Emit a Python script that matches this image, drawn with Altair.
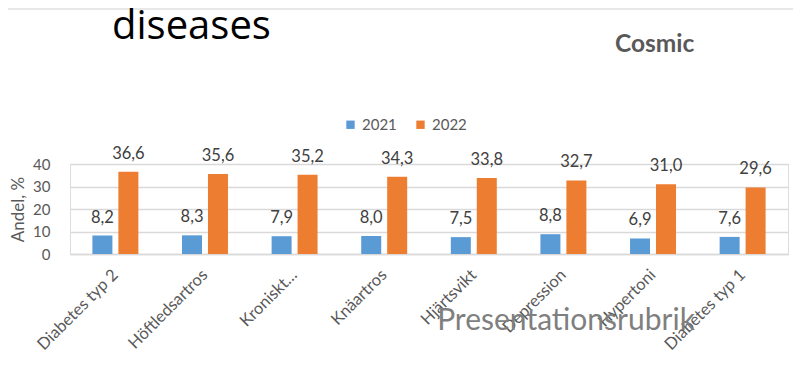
import altair as alt
import pandas as pd

categories = ["Diabetes typ 2", "Höftledsartros", "Kroniskt…", "Knäartros",
              "Hjärtsvikt", "Depression", "Hypertoni", "Diabetes typ 1"]
years = ["2021", "2022"]
values_2021 = [8.2, 8.3, 7.9, 8.0, 7.5, 8.8, 6.9, 7.6]
values_2022 = [36.6, 35.6, 35.2, 34.3, 33.8, 32.7, 31.0, 29.6]
y_ticks = [0, 10, 20, 30, 40]
colors = ["#5b9bd5", "#ed7d31"]
slide_title = ["diseases"]
brand = ["Cosmic"]
footer = ["Presentationsrubrik"]

rows = []
for c, a, b in zip(categories, values_2021, values_2022):
    for yr, v in zip(years, (a, b)):
        rows.append({"kategori": c, "år": yr, "andel": v,
                     "etikett": f"{v:.1f}".replace(".", ",")})
df = pd.DataFrame(rows)

FONT = "Lato"
GRAY = "#595959"

x_axis = alt.Axis(labelAngle=-45, labelAlign="right", labelBaseline="middle",
                  labelFontSize=16.5, labelColor=GRAY, labelFont=FONT,
                  domainColor="#d9d9d9", domainWidth=1.5, ticks=False,
                  labelPadding=18, grid=False, labelOverlap=False)
y_axis = alt.Axis(values=y_ticks, tickCount=5, title="Andel, %", titleFontSize=17,
                  titleColor=GRAY, titleFontWeight="normal", titleFont=FONT,
                  labelFontSize=15, labelColor=GRAY, labelFont=FONT,
                  labelPadding=20, domain=False, ticks=False, labelOverlap=False,
                  gridColor="#d9d9d9", gridWidth=1.5, titlePadding=5)
x_scale = alt.Scale(paddingInner=0.487, paddingOuter=0.25)
y_scale = alt.Scale(domain=[0, 40], nice=False)
off_scale = alt.Scale(paddingInner=0.23, paddingOuter=0)

base = alt.Chart(df)
bars = base.mark_bar().encode(
    x=alt.X("kategori:N", sort=categories, title=None, scale=x_scale, axis=x_axis),
    xOffset=alt.XOffset("år:N", sort=years, scale=off_scale),
    y=alt.Y("andel:Q", scale=y_scale, axis=y_axis),
    color=alt.Color("år:N", scale=alt.Scale(domain=years, range=colors),
                    legend=alt.Legend(orient="none", legendX=273, legendY=-47,
                                      direction="horizontal", title=None,
                                      symbolType="square", symbolSize=70,
                                      symbolStrokeWidth=0,
                                      labelFontSize=15, labelColor=GRAY, labelFont=FONT,
                                      columnPadding=16, labelOffset=4)),
)
labels = base.mark_text(dy=-18, fontSize=16.5, color="#404040", font=FONT,
                        baseline="middle").encode(
    x=alt.X("kategori:N", sort=categories, title=None, scale=x_scale, axis=x_axis),
    xOffset=alt.XOffset("år:N", sort=years, scale=off_scale),
    y=alt.Y("andel:Q", scale=y_scale, axis=y_axis),
    text="etikett:N")

one = pd.DataFrame({"d": [0]})
top_line = alt.Chart(one).mark_rule(color="#e0e0e0", strokeWidth=1.5).encode(
    x=alt.value(-62), x2=alt.value(723), y=alt.value(-155))
title_t = alt.Chart(pd.DataFrame({"t": slide_title})).mark_text(
    align="left", baseline="alphabetic", fontSize=40, font="Open Sans",
    color="#000000").encode(
    x=alt.value(42), y=alt.value(-125), text="t:N")
brand_t = alt.Chart(pd.DataFrame({"t": brand})).mark_text(
    align="left", baseline="alphabetic", fontSize=24.5, font=FONT, fontWeight="bold",
    color="#595959").encode(x=alt.value(545), y=alt.value(-112), text="t:N")
footer_t = alt.Chart(pd.DataFrame({"t": footer})).mark_text(
    align="center", baseline="middle", fontSize=30, font=FONT, color="#7f7f7f").encode(
    x=alt.value(496), y=alt.value(157), text="t:N")

chart = alt.layer(bars, labels, top_line, title_t, brand_t, footer_t).properties(
    width=718, height=90,
    autosize=alt.AutoSizeParams(type="none"),
    padding={"left": 62, "top": 156, "right": 5, "bottom": 104},
).configure_view(stroke=None).configure(background="white")

chart.save("out.html", embed_options={"renderer": "svg", "actions": False})
